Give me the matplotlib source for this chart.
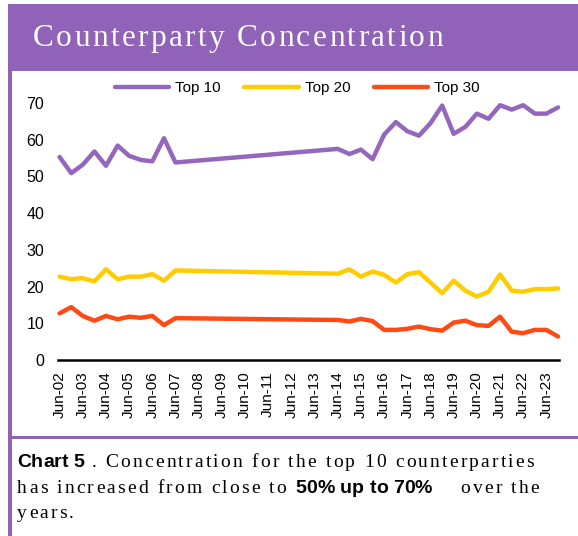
import matplotlib
matplotlib.use("Agg")
import matplotlib.pyplot as plt
import matplotlib.dates as mdates
import pandas as pd
from matplotlib.font_manager import FontProperties, findfont, get_font
from matplotlib.patches import Rectangle
from matplotlib.transforms import IdentityTransform

# ---------------------------------------------------------------------------
# Data (semi-annual, gap between Jun-07 and Jun-14)
# ---------------------------------------------------------------------------
dates = [
    "2002-06-30", "2002-12-31", "2003-06-30", "2003-12-31", "2004-06-30",
    "2004-12-31", "2005-06-30", "2005-12-31", "2006-06-30", "2006-12-31",
    "2007-06-30",
    "2014-06-30", "2014-12-31", "2015-06-30", "2015-12-31", "2016-06-30",
    "2016-12-31", "2017-06-30", "2017-12-31", "2018-06-30", "2018-12-31",
    "2019-06-30", "2019-12-31", "2020-06-30", "2020-12-31", "2021-06-30",
    "2021-12-31", "2022-06-30", "2022-12-31", "2023-06-30", "2023-12-31",
]
top10 = [55.3, 50.9, 53.2, 56.8, 52.9, 58.4, 55.6, 54.5, 54.1, 60.4, 53.8,
         57.5, 56.1, 57.3, 54.7, 61.4, 64.8, 62.3, 61.1, 64.5, 69.3,
         61.6, 63.5, 67.1, 65.7, 69.4, 68.2, 69.4, 67.1, 67.1, 68.8]
top20 = [22.7, 22.0, 22.3, 21.4, 24.7, 22.0, 22.7, 22.7, 23.4, 21.6, 24.4,
         23.5, 24.7, 22.7, 24.1, 23.2, 21.1, 23.4, 23.9, 21.1, 18.2,
         21.6, 18.9, 17.3, 18.6, 23.3, 18.9, 18.6, 19.3, 19.3, 19.5]
top30 = [12.7, 14.4, 12.0, 10.7, 12.0, 11.1, 11.8, 11.5, 12.0, 9.5, 11.4,
         10.9, 10.5, 11.2, 10.6, 8.2, 8.2, 8.5, 9.1, 8.4, 8.0,
         10.2, 10.7, 9.5, 9.3, 11.8, 7.7, 7.3, 8.2, 8.2, 6.4]
series_labels = ["Top 10", "Top 20", "Top 30"]
tick_years = list(range(2002, 2024))
y_ticks = [0, 10, 20, 30, 40, 50, 60, 70]

title = "Counterparty Concentration"

W, H, DPI = 578, 536, 100
PURPLE = "#9063B9"
COLORS = ["#9467BD", "#FFCC00", "#FF4A14"]


def draw_runs(fig, x, y, runs):
    """Draw text runs char by char with extra letter spacing (pixel coords, y from top)."""
    for text, fp, spacing, color in runs:
        font = get_font(findfont(fp))
        font.set_size(fp.get_size_in_points(), DPI)
        for ch in text:
            if ch != " ":
                fig.text(x, H - y, ch, fontproperties=fp, color=color,
                         transform=IdentityTransform(), ha="left", va="baseline")
            x += font.load_char(ord(ch)).linearHoriAdvance / 65536 + spacing
    return x


fig = plt.figure(figsize=(W / DPI, H / DPI), dpi=DPI)

# frame: header band, left border, caption divider
fig.patches.append(Rectangle((8, H - 71), W, 67, transform=IdentityTransform(),
                             facecolor=PURPLE, edgecolor="none"))
fig.patches.append(Rectangle((8, 0), 4, H - 71, transform=IdentityTransform(),
                             facecolor=PURPLE, edgecolor="none"))
fig.patches.append(Rectangle((8, H - 439), W, 3, transform=IdentityTransform(),
                             facecolor=PURPLE, edgecolor="none"))

serif_title = FontProperties(family="Liberation Serif", size=22.5)
draw_runs(fig, 33, 46, [(title, serif_title, 2.4, "white")])

# ---------------------------------------------------------------------------
# Chart
# ---------------------------------------------------------------------------
ax = fig.add_axes([58 / W, 1 - 360 / H, 501 / W, 257 / H])
x = pd.to_datetime(dates)
for vals, label, color in zip([top10, top20, top30], series_labels, COLORS):
    ax.plot(x, vals, color=color, linewidth=3.2, label=label,
            solid_capstyle="round", solid_joinstyle="round", clip_on=False)

ax.set_ylim(0, 70)
ax.set_yticks(y_ticks)
ax.set_xlim(pd.Timestamp("2002-06-05"), pd.Timestamp("2024-01-15"))
ax.set_xticks(pd.to_datetime([f"{yr}-06-30" for yr in tick_years]))
ax.xaxis.set_major_formatter(mdates.DateFormatter("%b-%y"))
ax.tick_params(axis="x", length=0, pad=8, labelsize=11, rotation=90)
ax.tick_params(axis="y", length=0, pad=10, labelsize=11.5)
for lbl in ax.get_xticklabels() + ax.get_yticklabels():
    lbl.set_fontfamily("Liberation Sans")
for side in ["top", "right", "left"]:
    ax.spines[side].set_visible(False)
ax.spines["bottom"].set_linewidth(1.8)
ax.spines["bottom"].set_color("black")

leg = ax.legend(loc="center", bbox_to_anchor=(0.478, 1 + 15 / 257), ncol=3,
                frameon=False, handlelength=3.55, handletextpad=0.4,
                columnspacing=1.55, borderaxespad=0,
                prop=FontProperties(family="Liberation Sans", size=11))

# ---------------------------------------------------------------------------
# Caption
# ---------------------------------------------------------------------------
sans_bold = FontProperties(family="Liberation Sans", weight="bold", size=14)
serif = FontProperties(family="Liberation Serif", size=14)
draw_runs(fig, 17, 467, [("Chart 5", sans_bold, 0, "black"),
                         (" . Concentration for the top 10 counterparties", serif, 2.2, "black")])
draw_runs(fig, 17, 493, [("has increased from close to ", serif, 2.2, "black"),
                         ("50% up to 70%", sans_bold, 0, "black"),
                         ("    over the", serif, 2.2, "black")])
draw_runs(fig, 17, 518, [("years.", serif, 2.2, "black")])

fig.savefig("out.png", dpi=DPI)
